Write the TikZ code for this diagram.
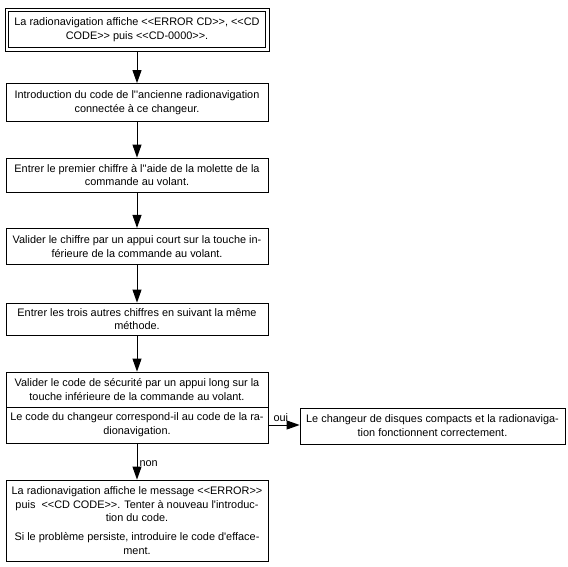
\documentclass[tikz,border=0pt]{standalone}
\usepackage{fontspec}
\newfontfamily\arialf{Liberation Sans}
\usetikzlibrary{arrows.meta}
\begin{document}
\begin{tikzpicture}[x=1pt,y=-1pt,
  box/.style={draw, line width=0.8pt, align=center, font=\arialf\fontsize{10.9}{13.8}\selectfont, inner sep=0pt, minimum width=262pt},
  arr/.style={line width=1pt, -{Triangle[length=13pt,width=9pt]}},
  lbl/.style={font=\arialf\fontsize{10.9}{12}\selectfont, inner sep=1pt}]
\useasboundingbox (0,0) rectangle (568,567);
\node[box, minimum width=264pt, minimum height=43pt] (b1) at (137,29.5)
  {La radionavigation affiche <{}<ERROR CD>{}>, <{}<CD\\CODE>{}> puis <{}<CD-0000>{}>.};
\draw[line width=0.8pt] ([shift={(4pt,-4pt)}]b1.north west) rectangle ([shift={(-4pt,4pt)}]b1.south east);
\node[box, minimum height=38pt] (b2) at (137,102.5)
  {Introduction du code de l''ancienne radionavigation\\connectée à ce changeur.};
\node[box, minimum height=34pt] (b3) at (137,175)
  {Entrer le premier chiffre à l''aide de la molette de la\\commande au volant.};
\node[box, minimum height=36pt] (b4) at (137,246.3)
  {Valider le chiffre par un appui court sur la touche in-\\férieure de la commande au volant.};
\node[box, minimum height=32pt] (b5) at (137,319)
  {Entrer les trois autres chiffres en suivant la même\\méthode.};
\node[box, minimum height=35pt] (b6a) at (137,389.5)
  {Valider le code de sécurité par un appui long sur la\\touche inférieure de la commande au volant.};
\node[box, minimum height=36pt] (b6b) at (137,425)
  {Le code du changeur correspond-il au code de la ra-\\dionavigation.};
\node[box, minimum width=265pt, minimum height=36pt] (ok) at (432.5,426)
  {Le changeur de disques compacts et la radionaviga-\\tion fonctionnent correctement.};
\node[box, minimum height=81pt] (b7) at (137,520.5)
  {La radionavigation affiche le message <{}<ERROR>{}>\\puis \ <{}<CD CODE>{}>. Tenter à nouveau l'introduc-\\tion du code.\\[5pt]Si le problème persiste, introduire le code d'efface-\\ment.};
\draw[arr] (b1.south) -- (b2.north);
\draw[arr] (b2.south) -- (b3.north);
\draw[arr] (b3.south) -- (b4.north);
\draw[arr] (b4.south) -- (b5.north);
\draw[arr] (b5.south) -- (b6a.north);
\draw[arr] (b6b.east) -- (b6b.east -| ok.west) node[lbl, pos=0.4, above, yshift=1.5pt] (oui) {oui};
\draw[arr] (b6b.south) -- (b7.north) node[lbl, pos=0.55, right, xshift=1pt] (non) {non};
\end{tikzpicture}
\end{document}
